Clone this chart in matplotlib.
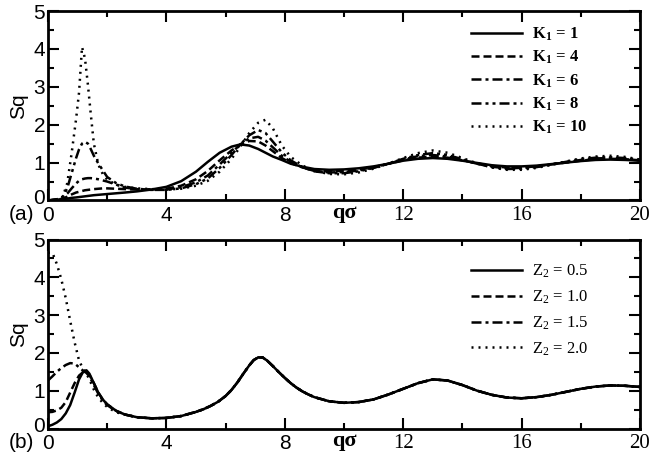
import numpy as np
import matplotlib
matplotlib.use("Agg")
import matplotlib.pyplot as plt
from matplotlib.transforms import ScaledTranslation

plt.rcParams['mathtext.default'] = 'regular'   # subscripts follow the text font

#### panel (a): S(q) for several K1 values
qa = [0, 0.3, 0.5, 0.65, 0.8, 0.95, 1.05, 1.15, 1.25, 1.35, 1.45, 1.55, 1.7, 1.85, 2.0,
      2.3, 2.6, 3.0, 3.5, 4.0, 4.5, 5.0, 5.4, 5.8, 6.2, 6.5, 6.8, 7.1, 7.35, 7.6, 7.9,
      8.2, 8.6, 9.0, 9.5, 10.0, 10.5, 11.0, 11.5, 12.0, 12.5, 13.0, 13.5, 14.0, 14.5,
      15.0, 15.5, 16.0, 16.5, 17.0, 17.5, 18.0, 18.5, 19.0, 19.5, 20.0]
s_k1 = [0.0, 0.02, 0.04, 0.05, 0.07, 0.08, 0.09, 0.10, 0.11, 0.12, 0.13, 0.14, 0.15, 0.16, 0.17,
        0.19, 0.21, 0.24, 0.29, 0.36, 0.51, 0.76, 1.02, 1.26, 1.42, 1.48, 1.45, 1.36, 1.26, 1.16, 1.07,
        0.97, 0.89, 0.83, 0.81, 0.82, 0.85, 0.90, 0.97, 1.05, 1.10, 1.12, 1.10, 1.05, 0.99,
        0.93, 0.90, 0.90, 0.92, 0.96, 1.00, 1.04, 1.07, 1.08, 1.07, 1.05]
s_k4 = [0.0, 0.02, 0.05, 0.10, 0.16, 0.21, 0.23, 0.25, 0.27, 0.28, 0.29, 0.30, 0.31, 0.32, 0.32,
        0.31, 0.30, 0.29, 0.29, 0.31, 0.39, 0.56, 0.78, 1.06, 1.32, 1.48, 1.57, 1.56, 1.45, 1.30, 1.12,
        0.99, 0.87, 0.80, 0.77, 0.78, 0.82, 0.88, 0.97, 1.06, 1.13, 1.16, 1.13, 1.06, 0.98,
        0.91, 0.87, 0.87, 0.90, 0.95, 1.00, 1.05, 1.09, 1.10, 1.09, 1.06]
s_k6 = [0.0, 0.03, 0.08, 0.18, 0.32, 0.45, 0.52, 0.56, 0.58, 0.59, 0.59, 0.58, 0.56, 0.53, 0.50,
        0.42, 0.34, 0.30, 0.28, 0.29, 0.35, 0.48, 0.66, 0.95, 1.26, 1.48, 1.64, 1.68, 1.58, 1.40, 1.18,
        1.02, 0.87, 0.78, 0.74, 0.75, 0.79, 0.87, 0.97, 1.08, 1.17, 1.20, 1.16, 1.07, 0.97,
        0.89, 0.85, 0.86, 0.89, 0.95, 1.01, 1.07, 1.11, 1.12, 1.10, 1.06]
s_k8 = [0.0, 0.03, 0.10, 0.32, 0.72, 1.12, 1.35, 1.50, 1.55, 1.50, 1.35, 1.18, 0.98, 0.80, 0.62,
        0.46, 0.37, 0.31, 0.28, 0.28, 0.32, 0.43, 0.58, 0.86, 1.20, 1.48, 1.72, 1.86, 1.78, 1.55, 1.27,
        1.06, 0.88, 0.77, 0.72, 0.72, 0.77, 0.86, 0.97, 1.10, 1.20, 1.25, 1.20, 1.09, 0.97,
        0.88, 0.83, 0.84, 0.88, 0.95, 1.02, 1.09, 1.13, 1.14, 1.12, 1.07]
s_k10 = [0.0, 0.02, 0.10, 0.45, 1.25, 2.15, 2.85, 4.05, 3.75, 3.05, 2.25, 1.50, 0.95, 0.70, 0.55,
         0.42, 0.36, 0.32, 0.30, 0.29, 0.31, 0.39, 0.52, 0.76, 1.10, 1.42, 1.78, 2.05, 2.13, 1.90, 1.45,
         1.15, 0.92, 0.78, 0.70, 0.69, 0.74, 0.84, 0.97, 1.12, 1.25, 1.32, 1.26, 1.12, 0.98,
         0.87, 0.81, 0.81, 0.86, 0.94, 1.03, 1.11, 1.16, 1.18, 1.15, 1.08]
labels_a = ['K$_1$ = 1', 'K$_1$ = 4', 'K$_1$ = 6', 'K$_1$ = 8', 'K$_1$ = 10']

#### panel (b): S(q) for several Z2 values, all curves join beyond q ~ 2.6
qb_low = [0, 0.15, 0.3, 0.45, 0.6, 0.75, 0.9, 1.05, 1.2, 1.3, 1.4, 1.55, 1.7, 1.85, 2.0, 2.3]
qb_tail = [2.6, 3.0, 3.5, 4.0, 4.5, 5.0, 5.25, 5.5, 5.75, 6.0, 6.2, 6.4, 6.6, 6.8, 6.95, 7.1,
           7.25, 7.4, 7.6, 7.8, 8.0, 8.2, 8.4, 8.6, 8.8, 9.0, 9.5, 10.0, 10.5, 11.0, 11.5,
           12.0, 12.5, 13.0, 13.5, 14.0, 14.5, 15.0, 15.5, 16.0, 16.5, 17.0, 17.5, 18.0,
           18.5, 19.0, 19.5, 20.0]
sb_tail = [0.37, 0.30, 0.27, 0.28, 0.33, 0.44, 0.51, 0.60, 0.71, 0.86, 1.02, 1.22, 1.45, 1.67, 1.81, 1.88,
           1.88, 1.80, 1.65, 1.49, 1.34, 1.20, 1.08, 0.98, 0.90, 0.83, 0.72, 0.68, 0.70, 0.77, 0.90,
           1.05, 1.20, 1.30, 1.27, 1.15, 1.00, 0.89, 0.82, 0.80, 0.83, 0.89, 0.97, 1.05,
           1.11, 1.14, 1.13, 1.10]
s_z05 = [0.06, 0.10, 0.16, 0.25, 0.40, 0.62, 0.95, 1.30, 1.52, 1.54, 1.45, 1.20, 0.95, 0.77, 0.64, 0.47]
s_z10 = [0.43, 0.44, 0.48, 0.55, 0.70, 0.95, 1.20, 1.40, 1.50, 1.50, 1.42, 1.20, 0.95, 0.77, 0.64, 0.47]
s_z15 = [1.27, 1.38, 1.50, 1.60, 1.68, 1.73, 1.72, 1.62, 1.52, 1.47, 1.38, 1.15, 0.92, 0.74, 0.62, 0.46]
s_z20 = [4.65, 4.65, 4.35, 3.95, 3.45, 2.85, 2.28, 1.80, 1.55, 1.45, 1.30, 1.03, 0.82, 0.68, 0.57, 0.43]
labels_b = ['Z$_2$ = 0.5', 'Z$_2$ = 1.0', 'Z$_2$ = 1.5', 'Z$_2$ = 2.0']

xticks_major = [0, 4, 8, 12, 16, 20]
xtick_labels = ['0', '4', '8', '12', '16', '20']
yticks_major = [0, 1, 2, 3, 4, 5]
ytick_labels = ['0', '1', '2', '3', '4', '5']

### line styles: solid, dashed, dash-dot, dash-dot-dot, dotted
styles = [None, (3.2, 1.6), (4.0, 1.6, 1.2, 1.6),
          (4.0, 1.6, 1.2, 1.6, 1.2, 1.6), (0.8, 2.0)]
LW = 1.8

fig = plt.figure(figsize=(6.5, 4.59), dpi=100)
ax_a = fig.add_axes([0.0738, 0.5632, 0.9108, 0.4128])
ax_b = fig.add_axes([0.0738, 0.0664, 0.9108, 0.4118])


def draw_line(ax, x, y, dashes, label):
    if dashes is None:
        ax.plot(x, y, color='black', lw=LW, ls='-', label=label)
    else:
        ax.plot(x, y, color='black', lw=LW, dashes=dashes, label=label)


series_a = [s_k1, s_k4, s_k6, s_k8, s_k10]
for s, st, lab in zip(series_a, styles, labels_a):
    draw_line(ax_a, qa, s, st, lab)

qb = qb_low + qb_tail
series_b = [s_z05, s_z10, s_z15, s_z20]
styles_b = [styles[0], styles[1], styles[2], styles[4]]
for s, st, lab in zip(series_b, styles_b, labels_b):
    draw_line(ax_b, qb, s + sb_tail, st, lab)

for ax, tag in [(ax_a, '(a)'), (ax_b, '(b)')]:
    ax.set_xlim(0, 20)
    ax.set_ylim(0, 5)
    ax.set_xticks(xticks_major)
    ax.set_xticklabels(xtick_labels)
    ax.set_xticks(np.arange(2, 20, 4), minor=True)
    ax.set_yticks(yticks_major)
    ax.set_yticklabels(ytick_labels)
    ax.set_yticks(np.arange(0.5, 5, 1.0), minor=True)
    ax.tick_params(which='both', direction='in', top=True, right=True, width=1.5, pad=4)
    ax.tick_params(which='major', length=8)
    ax.tick_params(which='minor', length=4)
    ax.tick_params(axis='y', pad=2)
    # small numbers look like Helvetica, the two-digit ones like Times
    for lbl in ax.get_xticklabels():
        if len(lbl.get_text()) == 1:
            lbl.set_fontfamily('Liberation Sans')
        else:
            lbl.set_fontfamily('Liberation Serif')
        lbl.set_fontsize(15)
    for lbl in ax.get_yticklabels():
        lbl.set_fontfamily('Liberation Sans')
        lbl.set_fontsize(15)
    # lift the y "0" a little so it sits just above the x "0"
    y0 = ax.get_yticklabels()[0]
    y0.set_transform(y0.get_transform() + ScaledTranslation(0, 3 / 72, fig.dpi_scale_trans))
    for sp in ax.spines.values():
        sp.set_linewidth(2)
    ax.set_ylabel('Sq', fontsize=15, family='Liberation Sans', labelpad=4)
    ax.set_xlabel('q\u03c3', fontsize=16, family='Liberation Serif', weight='bold', labelpad=-16)
    ax.text(-0.066, -0.072, tag, transform=ax.transAxes, fontsize=15,
            family='Liberation Sans', ha='left', va='center')

leg_a = ax_a.legend(loc='upper left', bbox_to_anchor=(0.70, 0.968), frameon=False,
                    handlelength=3.1, handletextpad=0.55, labelspacing=0.36, borderpad=0,
                    prop={'family': 'Liberation Serif', 'weight': 'bold', 'size': 12})
leg_b = ax_b.legend(loc='upper left', bbox_to_anchor=(0.70, 0.92), frameon=False,
                    handlelength=3.1, handletextpad=0.55, labelspacing=0.5, borderpad=0,
                    prop={'family': 'Liberation Serif', 'size': 12})

fig.savefig('out.png', dpi=100)
